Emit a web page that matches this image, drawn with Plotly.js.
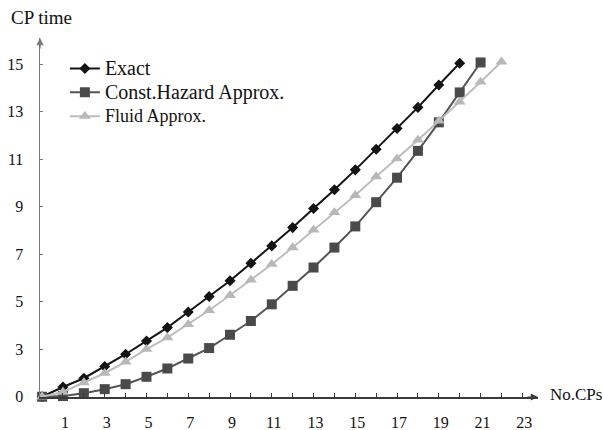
<!DOCTYPE html>
<html>
<head>
<meta charset="utf-8">
<script src="https://cdn.plot.ly/plotly-3.0.1.min.js"></script>
<style>
  html, body { margin: 0; padding: 0; background: #fff; }
  #chart { width: 603px; height: 430px; }
</style>
</head>
<body>
<div id="chart"></div>
<script>
// Number of change points (x) for each series
const cpsExact = [0,1,2,3,4,5,6,7,8,9,10,11,12,13,14,15,16,17,18,19,20];
const cpsHazard = [0,1,2,3,4,5,6,7,8,9,10,11,12,13,14,15,16,17,18,19,20,21];
const cpsFluid = [0,1,2,3,4,5,6,7,8,9,10,11,12,13,14,15,16,17,18,19,20,21,22];

// CP time for each method
const exactTime = [1.0, 1.41, 1.78, 2.27, 2.79, 3.35, 3.91, 4.57, 5.22, 5.88, 6.62,
                   7.35, 8.12, 8.92, 9.71, 10.55, 11.42, 12.29, 13.18, 14.12, 15.04];
const hazardTime = [1.0, 1.03, 1.15, 1.32, 1.53, 1.84, 2.19, 2.61, 3.05, 3.61, 4.19,
                    4.89, 5.67, 6.44, 7.28, 8.17, 9.19, 10.22, 11.35, 12.55, 13.81, 15.07];
const fluidTime = [1.0, 1.20, 1.60, 1.99, 2.47, 3.0, 3.49, 4.05, 4.64, 5.27, 5.92,
                   6.58, 7.28, 8.02, 8.76, 9.48, 10.27, 11.02, 11.81, 12.61, 13.41, 14.25, 15.1];

// Axis ticks and labels
const xTickVals = [1,2,3,4,5,6,7,8,9,10,11,12,13,14,15,16,17,18,19,20,21,22,23];
const xTickText = ["1","","3","","5","","7","","9","","11","","13","","15","","17","","19","","21","","23"];
const yTickVals = [1,3,5,7,9,11,13,15];
const yTickText = ["0","3","5","7","9","11","13","15"];

const serif = "Liberation Serif, Times New Roman, serif";
const xMax = 23.75, yMin = 0.99, yMax = 16.1;

const traces = [
  {
    x: cpsExact, y: exactTime, name: '<span style="font-size:20px">Exact</span>',
    mode: 'lines+markers', cliponaxis: false,
    line: {color: '#141414', width: 2},
    marker: {symbol: 'diamond', size: 8.5, color: '#141414'}
  },
  {
    x: cpsHazard, y: hazardTime, name: '<span style="font-size:20px">Const.Hazard Approx.</span>',
    mode: 'lines+markers', cliponaxis: false,
    line: {color: '#555555', width: 2},
    marker: {symbol: 'square', size: 10, color: '#4a4a4a'}
  },
  {
    x: cpsFluid, y: fluidTime, name: '<span style="font-size:18px">Fluid Approx.</span>',
    mode: 'lines+markers', cliponaxis: false,
    line: {color: '#bdbdbd', width: 2},
    marker: {symbol: 'triangle-up', size: 10.5, color: '#b8b8b8'}
  }
];

const layout = {
  width: 603, height: 430,
  margin: {l: 40, r: 65, t: 38, b: 33},
  paper_bgcolor: '#ffffff', plot_bgcolor: '#ffffff',
  font: {family: serif, color: '#111111', size: 16},
  showlegend: true,
  legend: {
    x: 0.05, y: 0.962, xanchor: 'left', yanchor: 'top',
    bgcolor: 'rgba(0,0,0,0)', font: {family: serif, size: 16, color: '#111'},
    tracegroupgap: 0
  },
  xaxis: {
    range: [-0.1, xMax], showgrid: false, zeroline: false,
    showline: true, linecolor: '#3a3a3a', linewidth: 1.5,
    ticks: 'inside', ticklen: 4, tickcolor: '#3a3a3a', tickwidth: 1,
    tickmode: 'array', tickvals: xTickVals, ticktext: xTickText,
    ticklabelstandoff: 10, ticklabelshift: 2,
    tickfont: {family: serif, size: 16, color: '#111'}
  },
  yaxis: {
    range: [yMin, yMax], showgrid: false, zeroline: false,
    showline: true, linecolor: '#7a7a7a', linewidth: 1.5,
    ticks: 'inside', ticklen: 3, tickcolor: '#7a7a7a', tickwidth: 1,
    tickmode: 'array', tickvals: yTickVals, ticktext: yTickText,
    ticklabelstandoff: 12,
    tickfont: {family: serif, size: 16, color: '#111'}
  },
  annotations: [
    // arrowheads on the two axes
    {x: xMax, y: yMin, xref: 'x', yref: 'y', ax: -12, ay: 0, text: '',
     showarrow: true, arrowhead: 2, arrowsize: 1.2, arrowwidth: 1.2, arrowcolor: '#3a3a3a'},
    {x: -0.1, y: yMax, xref: 'x', yref: 'y', ax: 0, ay: 12, text: '',
     showarrow: true, arrowhead: 2, arrowsize: 1.2, arrowwidth: 1.2, arrowcolor: '#7a7a7a'},
    // axis titles
    {text: 'CP time', xref: 'paper', yref: 'paper', x: -0.063, y: 1.058,
     xanchor: 'left', yanchor: 'middle', showarrow: false,
     font: {family: serif, size: 19, color: '#111'}},
    {text: 'No.CPs', xref: 'paper', yref: 'paper', x: 1.02, y: 0.006,
     xanchor: 'left', yanchor: 'middle', showarrow: false,
     font: {family: serif, size: 17, color: '#111'}}
  ]
};

Plotly.newPlot('chart', traces, layout, {staticPlot: true, displayModeBar: false});
</script>
</body>
</html>
